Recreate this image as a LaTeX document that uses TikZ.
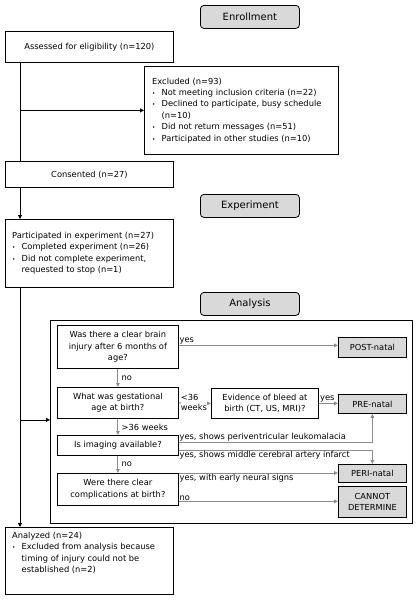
\documentclass[tikz,border=0pt]{standalone}
\usepackage{fontspec}
\setmainfont{DejaVu Sans}
\usetikzlibrary{arrows.meta,calc}
\definecolor{stagefill}{HTML}{D9D9D9}
\definecolor{flowgray}{HTML}{8C8C8C}
\newcommand{\bul}{\makebox[9.5pt][l]{\fontsize{5.5}{5.5}\selectfont\textbullet}}
\begin{document}
\begin{tikzpicture}[x=1pt,y=-1pt,
  font=\fontsize{8.3}{11.4}\selectfont,
  box/.style={draw=black, line width=0.8pt, anchor=north west, inner sep=0pt, align=center},
  outbox/.style={box, fill=stagefill},
  stage/.style={draw=black, line width=0.8pt, rounded corners=3.5pt, fill=stagefill, anchor=north west,
    minimum width=99pt, minimum height=23pt, inner sep=0pt, font=\fontsize{10}{12}\selectfont},
  txt/.style={align=left, inner sep=0pt},
  lbl/.style={inner sep=0.6pt, align=left},
  mainarrow/.style={line width=0.8pt, -{Triangle[length=4pt,width=4pt]}},
  mainline/.style={line width=0.8pt},
  grayarrow/.style={draw=flowgray, line width=0.9pt, -{Triangle[length=4pt,width=3.6pt]}, color=flowgray},
]
\useasboundingbox (0,0) rectangle (417,600);
\coordinate (spine) at (20,0);

% stage headers
\node[stage] (enroll) at (200,5) {Enrollment};
\node[stage] (exper) at (200,194) {Experiment};
\node[stage] (analysis) at (200,292) {Analysis};

% enrollment
\node[box, minimum width=168pt, minimum height=31pt] (assessed) at (5,31) {Assessed for eligibility (n=120)};
\node[box, minimum width=194pt, minimum height=88pt] (excluded) at (144,66) {};
\node[txt, anchor=west] (excludedtext) at ($(excluded.west)+(8,0)$)
  {Excluded (n=93)\\
   \bul Not meeting inclusion criteria (n=22)\\
   \bul Declined to participate, busy schedule\\
   \hspace*{9.5pt}(n=10)\\
   \bul Did not return messages (n=51)\\
   \bul Participated in other studies (n=10)};
\node[box, minimum width=168pt, minimum height=26pt] (consented) at (5,161) {Consented (n=27)};

% experiment
\node[box, minimum width=168pt, minimum height=68pt] (particip) at (5,219) {};
\node[txt, anchor=west] (participtext) at ($(particip.west)+(7,0)$)
  {Participated in experiment (n=27)\\
   \bul Completed experiment (n=26)\\
   \bul Did not complete experiment,\\
   \hspace*{9.5pt}requested to stop (n=1)};

% analysis container
\node[box, minimum width=362pt, minimum height=203pt] (container) at (50,320) {};
\node[box, minimum width=121pt, minimum height=43pt] (q1) at (57,325) {Was there a clear brain\\injury after 6 months of\\age?};
\node[outbox, minimum width=68pt, minimum height=20pt] (post) at (338,337) {POST-natal};
\node[box, minimum width=121pt, minimum height=31pt] (q2) at (57,387) {What was gestational\\age at birth?};
\node[box, minimum width=107pt, minimum height=30pt] (bleed) at (211,388) {Evidence of bleed at\\birth (CT, US, MRI)?};
\node[outbox, minimum width=68pt, minimum height=19pt] (pre) at (338,394) {PRE-natal};
\node[box, minimum width=121pt, minimum height=20pt] (imaging) at (57,435) {Is imaging available?};
\node[outbox, minimum width=68pt, minimum height=18pt] (peri) at (338,464) {PERI-natal};
\node[box, minimum width=121pt, minimum height=32pt] (q4) at (57,473) {Were there clear\\complications at birth?};
\node[outbox, minimum width=68pt, minimum height=31pt] (cannot) at (338,486) {CANNOT\\DETERMINE};

% analyzed
\node[box, minimum width=168pt, minimum height=67pt] (analyzed) at (5,527) {};
\node[txt, anchor=north west] (analyzedtext) at ($(analyzed.north west)+(7,5)$)
  {Analyzed (n=24)\\
   \bul Excluded from analysis because\\
   \hspace*{9.5pt}timing of injury could not be\\
   \hspace*{9.5pt}established (n=2)};

% main spine
\draw[mainline] (assessed.south -| spine) -- (consented.north -| spine);
\draw[mainarrow] (excluded.west -| spine) -- (excluded.west);
\draw[mainarrow] (consented.south -| spine) -- (particip.north -| spine);
\draw[mainarrow] (particip.south -| spine) -- (analyzed.north -| spine);
\draw[mainarrow] ([yshift=2pt]container.west -| spine) -- ([yshift=2pt]container.west);

% analysis flow
\draw[grayarrow] ([yshift=1.5pt]q1.east) -- ([yshift=1.5pt]q1.east -| post.west);
\node[lbl, anchor=south west] (yes1) at ([yshift=1.5pt]q1.east) {yes};
\draw[grayarrow] (q1.south) -- (q2.north);
\node[lbl, anchor=west] (no1) at ($(q1.south)!0.5!(q2.north)+(3,0)$) {no};
\draw[grayarrow] (q2.east) -- (bleed.west);
\node[lbl, anchor=west, fill=white, inner sep=0.3pt] (lt36) at ($(q2.east)+(1.5,0)$) {<36\\[-1.5pt]weeks};
\draw[grayarrow] (bleed.east) -- (bleed.east -| pre.west);
\node[lbl, anchor=south west] (yes2) at ($(bleed.east)+(0.5,0)$) {yes};
\draw[grayarrow] (q2.south) -- (imaging.north);
\node[lbl, anchor=west] (gt36) at ($(q2.south)!0.5!(imaging.north)+(3,0)$) {>36 weeks};
\draw[grayarrow] ([yshift=3pt]imaging.east) -| (pre.south);
\node[lbl, anchor=south west] (pvl) at ([yshift=3pt]imaging.east) {yes, shows periventricular leukomalacia};
\draw[grayarrow] ([yshift=-5pt]imaging.east) -| (peri.north);
\node[lbl, anchor=north west] (mca) at ([yshift=-5pt]imaging.east) {yes, shows middle cerebral artery infarct};
\draw[grayarrow] (imaging.south) -- (q4.north);
\node[lbl, anchor=west] (no2) at ($(imaging.south)!0.5!(q4.north)+(3,0)$) {no};
\draw[grayarrow] (q4.north east) -- (q4.north east -| peri.west);
\node[lbl, anchor=north west] (early) at (q4.north east) {yes, with early neural signs};
\draw[grayarrow] ([yshift=-12pt]q4.east) -- ([yshift=-12pt]q4.east -| cannot.west);
\node[lbl, anchor=south west] (no3) at ([yshift=-12pt]q4.east) {no};
\end{tikzpicture}
\end{document}
